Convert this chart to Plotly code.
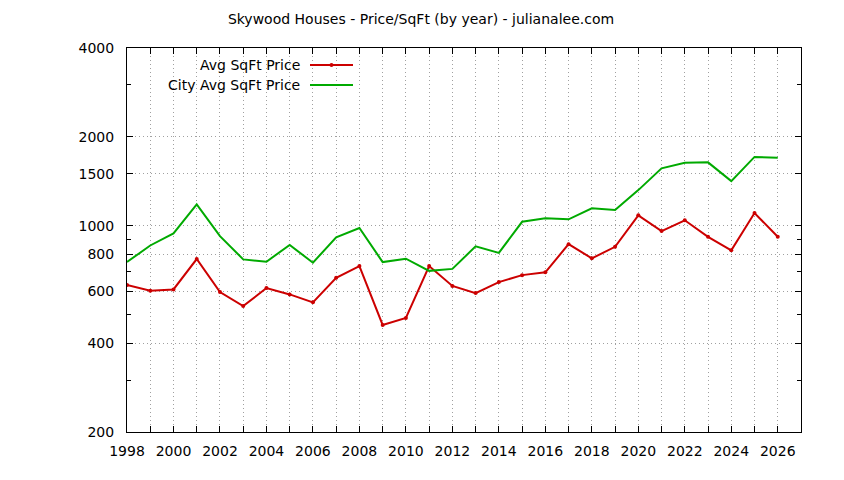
import plotly.graph_objects as go

years = list(range(1998, 2027))

# Avg SqFt Price (neighbourhood)
avg_sqft = [630, 602, 608, 771, 596, 534, 615, 585, 550, 666, 730, 461, 487, 730, 625,
            591, 644, 680, 695, 866, 775, 848, 1084, 959, 1043, 917, 825, 1104, 917]

# City Avg SqFt Price
city_sqft = [753, 857, 942, 1181, 922, 769, 755, 861, 749, 914, 982, 753, 773, 703, 714,
             851, 809, 1031, 1059, 1051, 1145, 1130, 1320, 1564, 1633, 1639, 1416, 1710, 1700]

y_ticks = [200, 400, 600, 800, 1000, 1500, 2000, 4000]
y_minor = [300, 500, 700, 900, 3000]

RED = '#cc0000'
GREEN = '#00aa00'
FONT = 'DejaVu Sans'
GRID = '#a0a0a0'

# page body has an 8px margin, so the figure is offset; plot box is 127..801 x 48..432 on the page
fig = go.Figure()

fig.add_trace(go.Scatter(
    x=years, y=avg_sqft, mode='lines+markers', name='Avg SqFt Price',
    line=dict(color=RED, width=2),
    marker=dict(color=RED, size=4, symbol='circle')
))

fig.add_trace(go.Scatter(
    x=years, y=city_sqft, mode='lines', name='City Avg SqFt Price',
    line=dict(color=GREEN, width=2)
))

fig.update_layout(
    width=844, height=480,
    margin=dict(l=119, r=51, t=40, b=56),
    paper_bgcolor='white', plot_bgcolor='white',
    showlegend=False,
    font=dict(family=FONT, size=14, color='black'),
    title=dict(text='Skywood Houses - Price/SqFt (by year) - julianalee.com',
               x=413 / 844, xanchor='center', y=1 - 11 / 480, yanchor='middle',
               font=dict(family=FONT, size=14, color='black')),
)

fig.update_xaxes(
    range=[1998, 2027], tickmode='linear', tick0=1998, dtick=2,
    ticks='inside', ticklen=6, tickcolor='black', ticklabelstandoff=6,
    showline=True, linecolor='black', linewidth=1, mirror='ticks',
    showgrid=True, gridcolor=GRID, griddash='1px,3px', gridwidth=1,
    zeroline=False,
    minor=dict(tickmode='linear', tick0=1999, dtick=2, ticks='inside', ticklen=6,
               tickcolor='black', showgrid=True, gridcolor=GRID, griddash='1px,3px')
)

fig.update_yaxes(
    type='log', range=[2.30103, 3.60206],
    tickmode='array', tickvals=y_ticks, ticktext=[str(v) for v in y_ticks],
    ticks='inside', ticklen=6, tickcolor='black', ticklabelstandoff=9,
    showline=True, linecolor='black', linewidth=1, mirror='ticks',
    showgrid=True, gridcolor=GRID, griddash='1px,3px', gridwidth=1,
    zeroline=False,
    minor=dict(tickmode='array', tickvals=y_minor, ticks='inside', ticklen=4,
               tickcolor='black', showgrid=False)
)

# gnuplot-style key: text right aligned, line sample on the right
key_rows = [('Avg SqFt Price', RED, True, 65), ('City Avg SqFt Price', GREEN, False, 85)]
for label, color, dot, ypx in key_rows:
    yp = 1 - (ypx - 48) / 384
    fig.add_annotation(text=label, xref='paper', yref='paper', x=(302 - 127) / 674, y=yp,
                       xanchor='right', yanchor='middle', showarrow=False,
                       font=dict(family=FONT, size=14, color='black'))
    fig.add_shape(type='line', xref='paper', yref='paper',
                  x0=(310 - 127) / 674, x1=(353 - 127) / 674, y0=yp, y1=yp,
                  line=dict(color=color, width=2))
    if dot:
        fig.add_shape(type='circle', xref='paper', yref='paper',
                      x0=(329.5 - 127) / 674, x1=(333.5 - 127) / 674,
                      y0=yp - 2 / 384, y1=yp + 2 / 384,
                      fillcolor=color, line=dict(color=color, width=0))

fig.write_html('out.html')
